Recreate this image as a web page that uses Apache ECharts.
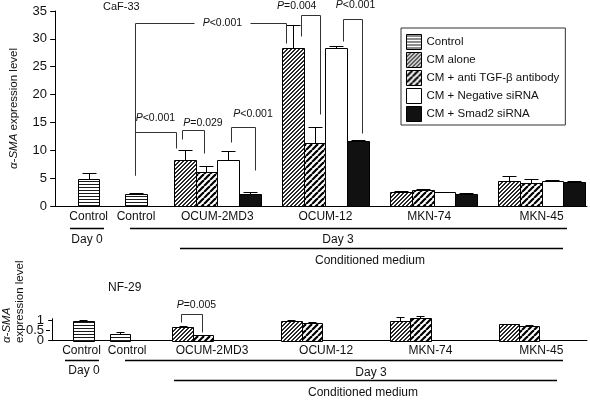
<!DOCTYPE html>
<html><head><meta charset="utf-8">
<script src="https://cdn.jsdelivr.net/npm/echarts@6/dist/echarts.min.js"></script>
<style>html,body{margin:0;padding:0;background:#fff}#c{width:590px;height:401px}</style>
</head><body><div id="c"></div>
<script>
// ================= DATA =================
const seriesNames = ['Control', 'CM alone', 'CM + anti TGF-\u03b2 antibody', 'CM + Negative siRNA', 'CM + Smad2 siRNA'];
const controlLabels = ['Control', 'Control'];           // Day 0, Day 3
const cellLines = ['OCUM-2MD3', 'OCUM-12', 'MKN-74', 'MKN-45'];

// CaF-33 (upper panel): bar value and top of error bar
const cafControl      = [4.85, 2.1];
const cafControlErr   = [6.0, 2.4];
const cafCMAlone      = [8.3, 28.3, 2.5, 4.4];
const cafCMAloneErr   = [10.0, 32.5, 2.75, 5.4];
const cafAntiTGF      = [6.1, 11.3, 2.8, 4.1];
const cafAntiTGFErr   = [7.25, 14.1, 3.1, 4.8];
const cafNegSiRNA     = [8.3, 28.3, 2.45, 4.5];
const cafNegSiRNAErr  = [9.8, 28.7, 2.55, 4.7];
const cafSmad2        = [2.1, 11.7, 2.2, 4.3];
const cafSmad2Err     = [2.6, 11.85, 2.3, 4.5];

// NF-29 (lower panel)
const nfControl     = [1.0, 0.33];
const nfControlErr  = [1.05, 0.42];
const nfCMAlone     = [0.68, 0.98, 0.97, 0.83];
const nfCMAloneErr  = [0.73, 1.03, 1.18, 0.86];
const nfAntiTGF     = [0.27, 0.87, 1.12, 0.74];
const nfAntiTGFErr  = [0.30, 0.93, 1.22, 0.77];

const cafTicks = [0, 5, 10, 15, 20, 25, 30, 35];
const nfTicks = [0, 0.5, 1];

// P-value annotations: legs reference [series, index]
const cafPvalues = [
  {p: '<0.001', l: [0, 1], r: [1, 0], lBottom: 5.6, rBottom: 10.4, top: 13.35},
  {p: '=0.029', l: [1, 0], r: [2, 0], lBottom: 12.0, rBottom: 9.5, top: 13.6},
  {p: '<0.001', l: [3, 0], r: [4, 0], lBottom: 11.4, rBottom: 6.4, top: 14.2},
  {p: '<0.001', l: [0, 1], r: [1, 1], lBottom: 5.6, rBottom: 29.2, top: 32.8},
  {p: '=0.004', l: [1, 1], r: [2, 1], lBottom: 30.5, rBottom: 16.6, top: 34.2},
  {p: '<0.001', l: [3, 1], r: [4, 1], lBottom: 29.6, rBottom: 13.05, top: 33.6}
];
const nfPvalues = [
  {p: '=0.005', l: [1, 0], r: [2, 0], lBottom: 0.95, rBottom: 0.45, top: 1.33}
];

// ================= LAYOUT / STYLE =================
const FONT = '"Liberation Sans", Arial, Helvetica, sans-serif';
const TXT = '#111';
const groupFirstX = [6, 11, 16, 21];
const layoutTop = {ctrlX: [1.55, 3.74], pitch: 1, width: 1, cap: 0.33,
  labelX: [1.55, 3.74, 7.5, 12.5, 17.3, 22.5]};
const layoutBot = {ctrlX: [1.44, 3.12], pitch: 0.94, width: 0.94, cap: 0.2,
  labelX: [1.35, 3.45, 7.35, 12.6, 17.4, 22.5]};
// bracket styling: leg offsets (axis units), label offsets (px)
const cafPStyle = [
  {ldx: -0.04, rdx: -0.43, dx: 0, dy: 14},
  {ldx: -0.15, rdx: -0.10, dx: 10, dy: 7},
  {ldx: 0.13, rdx: 0.25, dx: 10, dy: 13},
  {ldx: -0.04, rdx: -0.34, dx: 12, inline: true, gap: 28},
  {ldx: 0.37, rdx: 0.27, dx: -14, dy: 9},
  {ldx: 0.32, rdx: 0.19, dx: 3, dy: 14}
];
const nfPStyle = [{ldx: -0.09, rdx: -0.04, dx: 5, dy: 9}];

function barX(L, s, i) { return s === 0 ? L.ctrlX[i] : groupFirstX[i] + (s - 1) * L.pitch; }

function makePattern(w, h, draw) {
  const c = document.createElement('canvas'); c.width = w; c.height = h;
  const g = c.getContext('2d'); g.fillStyle = '#fff'; g.fillRect(0, 0, w, h); draw(g);
  return {image: c, repeat: 'repeat'};
}
const patControl = makePattern(4, 3, g => { g.fillStyle = '#1a1a1a'; g.fillRect(0, 1, 4, 1); });
const patCM = makePattern(4, 4, g => {
  g.fillStyle = '#2a2a2a';
  for (let i = 0; i < 4; i++) { g.fillRect(i, 3 - i, 1, 1); g.fillRect(i, (4 - i) % 4, 1, 1); }
});
const patAnti = makePattern(6, 6, g => {
  g.strokeStyle = '#000'; g.lineWidth = 2.2;
  for (const k of [-6, 0, 6]) { g.beginPath(); g.moveTo(k, 6); g.lineTo(k + 6, 0); g.stroke(); }
});
const fills = [patControl, patCM, patAnti, '#ffffff', '#111111'];

const X = v => Math.round(v) + 0.5;

function barRenderer(fill, L) {
  return function (params, api) {
    const x = api.value(0), v = api.value(1), e = api.value(2);
    const tl = api.coord([x - L.width / 2, v]);
    const br = api.coord([x + L.width / 2, 0]);
    const x0 = X(tl[0]), x1 = X(br[0]), y0 = X(tl[1]), y1 = X(br[1]);
    const cx = X((tl[0] + br[0]) / 2);
    const ye = X(api.coord([x, e])[1]);
    const ch = Math.round((x1 - x0) * L.cap);
    return {type: 'group', children: [
      {type: 'rect', shape: {x: x0, y: y0, width: x1 - x0, height: y1 - y0}, style: {fill: fill, stroke: '#000', lineWidth: 1}},
      {type: 'line', shape: {x1: cx, y1: y0, x2: cx, y2: ye}, style: {stroke: '#000', lineWidth: 1}},
      {type: 'line', shape: {x1: cx - ch, y1: ye, x2: cx + ch, y2: ye}, style: {stroke: '#000', lineWidth: 1}}
    ]};
  };
}

function bracketRenderer(list, styles, L) {
  return function (params, api) {
    const b = list[params.dataIndex], st = styles[params.dataIndex];
    const xl = barX(L, b.l[0], b.l[1]) + st.ldx;
    const xr = barX(L, b.r[0], b.r[1]) + st.rdx;
    const pl = api.coord([xl, b.lBottom]), plt = api.coord([xl, b.top]);
    const pr = api.coord([xr, b.rBottom]), prt = api.coord([xr, b.top]);
    const ls = {stroke: '#333', lineWidth: 1, fill: null};
    const tx = (plt[0] + prt[0]) / 2 + st.dx;
    const children = [];
    if (st.inline) {
      children.push({type: 'polyline', shape: {points: [[X(pl[0]), X(pl[1])], [X(plt[0]), X(plt[1])], [X(tx - st.gap), X(plt[1])]]}, style: ls});
      children.push({type: 'polyline', shape: {points: [[X(tx + st.gap), X(prt[1])], [X(prt[0]), X(prt[1])], [X(pr[0]), X(pr[1])]]}, style: ls});
    } else {
      children.push({type: 'polyline', shape: {points: [[X(pl[0]), X(pl[1])], [X(plt[0]), X(plt[1])], [X(prt[0]), X(prt[1])], [X(pr[0]), X(pr[1])]]}, style: ls});
    }
    children.push({type: 'text', x: tx, y: st.inline ? plt[1] : plt[1] - st.dy,
      style: {text: '{i|P}' + b.p, fontSize: 10.5, fontFamily: FONT, fill: TXT, align: 'center', verticalAlign: 'middle',
        rich: {i: {fontStyle: 'italic', fontSize: 10.5, fontFamily: FONT, fill: TXT}}}});
    return {type: 'group', children: children};
  };
}

function barData(L, s, vals, errs) { return vals.map((v, i) => [barX(L, s, i), v, errs[i]]); }

const topSets = [[cafControl, cafControlErr], [cafCMAlone, cafCMAloneErr], [cafAntiTGF, cafAntiTGFErr], [cafNegSiRNA, cafNegSiRNAErr], [cafSmad2, cafSmad2Err]];
const botSets = [[nfControl, nfControlErr], [nfCMAlone, nfCMAloneErr], [nfAntiTGF, nfAntiTGFErr]];
const allLabels = controlLabels.concat(cellLines);

const series = [];
topSets.forEach((d, s) => series.push({type: 'custom', name: seriesNames[s], xAxisIndex: 0, yAxisIndex: 0,
  renderItem: barRenderer(fills[s], layoutTop), data: barData(layoutTop, s, d[0], d[1]), encode: {x: 0, y: 1},
  itemStyle: {color: fills[s], borderColor: '#000', borderWidth: 1}, silent: true}));
botSets.forEach((d, s) => series.push({type: 'custom', name: seriesNames[s], xAxisIndex: 1, yAxisIndex: 1,
  renderItem: barRenderer(fills[s], layoutBot), data: barData(layoutBot, s, d[0], d[1]), encode: {x: 0, y: 1},
  itemStyle: {color: fills[s], borderColor: '#000', borderWidth: 1}, silent: true}));
series.push({type: 'custom', xAxisIndex: 0, yAxisIndex: 0, renderItem: bracketRenderer(cafPvalues, cafPStyle, layoutTop),
  data: cafPvalues.map(() => [0, 0]), silent: true, clip: false, z: 5});
series.push({type: 'custom', xAxisIndex: 1, yAxisIndex: 1, renderItem: bracketRenderer(nfPvalues, nfPStyle, layoutBot),
  data: nfPvalues.map(() => [0, 0]), silent: true, clip: false, z: 5});

function xAxisFor(grid, L, margin) {
  return {gridIndex: grid, type: 'value', min: -0.1, max: 24.6,
    axisLine: {show: true, lineStyle: {color: '#000', width: 1}}, axisTick: {show: false}, splitLine: {show: false},
    axisLabel: {customValues: L.labelX, margin: margin, fontSize: 12, fontFamily: FONT, color: TXT,
      formatter: function (v) {
        let best = 0; L.labelX.forEach((p, i) => { if (Math.abs(p - v) < Math.abs(L.labelX[best] - v)) best = i; });
        return allLabels[best];
      }}};
}

// lower panel y-axis: end ticks on the main axis, middle tick on an overlaid twin axis (avoids overlap hiding)
const nfOuterTicks = nfTicks.filter((t, i) => i !== 1);
const nfMiddleTicks = nfTicks.filter((t, i) => i === 1);
function nfYAxis(vals, showLine) {
  return {gridIndex: 1, type: 'value', min: 0, max: 1.1, position: 'left',
    axisLine: {show: showLine, lineStyle: {color: '#000'}},
    axisTick: {show: true, length: 4, customValues: vals, lineStyle: {color: '#000'}},
    splitLine: {show: false},
    axisLabel: {customValues: vals, fontSize: 13, margin: 6, color: TXT, fontFamily: FONT, hideOverlap: false,
      showMinLabel: true, showMaxLabel: true, formatter: v => String(v)}};
}

const lineStyleAnn = {stroke: '#000', lineWidth: 1.3};
function hline(x1, x2, y) { return {type: 'line', shape: {x1: x1, y1: y, x2: x2, y2: y}, style: lineStyleAnn, silent: true}; }
function label(text, x, y) { return {type: 'text', x: x, y: y, style: {text: text, fontSize: 12, fontFamily: FONT, fill: TXT, align: 'center', verticalAlign: 'middle'}, silent: true}; }
function vtext(text, x, y) {
  return {type: 'text', x: x, y: y, rotation: Math.PI / 2, silent: true,
    style: {text: text, fontSize: 11.5, fontFamily: FONT, fill: TXT, align: 'left', verticalAlign: 'middle',
      rich: {i: {fontStyle: 'italic', fontSize: 11.5, fontFamily: FONT, fill: TXT}}}};
}

const option = {
  animation: false,
  textStyle: {fontFamily: FONT, color: TXT},
  title: [
    {text: 'CaF-33', left: 103, top: 1, padding: 0, textStyle: {fontSize: 11, fontWeight: 'normal', color: TXT, fontFamily: FONT}},
    {text: 'NF-29', left: 108, top: 282, padding: 0, textStyle: {fontSize: 12, fontWeight: 'normal', color: TXT, fontFamily: FONT}}
  ],
  legend: {
    left: 401, top: 28, orient: 'vertical', itemWidth: 15, itemHeight: 15, itemGap: 2,
    padding: [6, 6, 3, 5], borderColor: '#333', borderWidth: 1, backgroundColor: '#fff',
    selectedMode: false, icon: 'rect',
    textStyle: {fontSize: 11.5, fontFamily: FONT, color: TXT},
    data: seriesNames.map((n, s) => ({name: n, itemStyle: {color: fills[s], borderColor: '#000', borderWidth: 1}}))
  },
  grid: [
    {left: 50, top: 11, width: 537, height: 195},
    {left: 50, top: 318.7, width: 537, height: 22}
  ],
  xAxis: [xAxisFor(0, layoutTop, 5), xAxisFor(1, layoutBot, 4)],
  yAxis: [
    {gridIndex: 0, type: 'value', min: cafTicks[0], max: cafTicks[cafTicks.length - 1], interval: 5,
      axisLine: {show: true, lineStyle: {color: '#000'}}, axisTick: {show: true, length: 5, lineStyle: {color: '#000'}},
      splitLine: {show: false}, axisLabel: {fontSize: 13, margin: 6, color: TXT, fontFamily: FONT},
      name: '{i|\u03b1-SMA} expression level', nameLocation: 'middle', nameRotate: 90, nameGap: 33,
      nameTextStyle: {fontSize: 11.5, fontFamily: FONT, color: TXT, rich: {i: {fontStyle: 'italic', fontSize: 11.5, fontFamily: FONT, color: TXT}}}},
    nfYAxis(nfOuterTicks, true),
    nfYAxis(nfMiddleTicks, false)
  ],
  graphic: [
    // upper panel annotations
    hline(70, 104, 228.5), label('Day 0', 87, 240),
    hline(130, 567, 228.5), label('Day 3', 338, 240),
    hline(180, 563, 248.5), label('Conditioned medium', 370, 261),
    // lower panel annotations
    hline(65, 99, 360.5), label('Day 0', 84, 371),
    hline(125, 563, 360.5), label('Day 3', 371, 373),
    hline(174, 557, 380.5), label('Conditioned medium', 363, 393),
    vtext('{i|\u03b1-SMA}', 7, 343),
    vtext('expression level', 20, 343)
  ],
  series: series
};

const chart = echarts.init(document.getElementById('c'), null, {renderer: 'canvas'});
chart.setOption(option);
</script>
</body></html>
